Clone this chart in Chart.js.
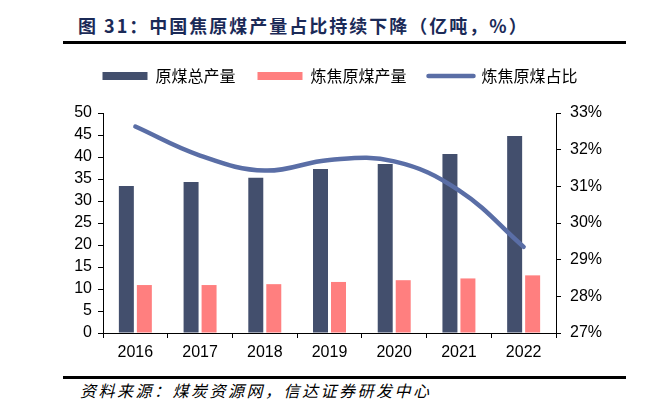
<!DOCTYPE html>
<html>
<head>
<meta charset="utf-8">
<script src="https://cdn.jsdelivr.net/npm/chart.js@4"></script>
<style>
  html, body { margin:0; padding:0; background:#fff; width:650px; height:420px; overflow:hidden; position:relative; }
  #title { position:absolute; left:78px; top:13px; font-family:"Noto Sans CJK SC", sans-serif; font-weight:bold; font-size:18px; letter-spacing:2px; color:#1b2a57; line-height:24px; white-space:nowrap; }
  .rule { position:absolute; left:63px; width:563px; height:3px; background:#000; }
  #footer { position:absolute; left:80px; top:380px; font-family:"Noto Sans CJK SC", sans-serif; font-style:italic; font-size:16px; letter-spacing:2.5px; color:#000; line-height:20px; white-space:nowrap; }
  #wrap { position:absolute; left:40px; top:46px; width:600px; height:325px; }
</style>
</head>
<body>
<div id="title">图 31：中国焦原煤产量占比持续下降（亿吨，%）</div>
<div class="rule" style="top:41px"></div>
<div id="wrap"><canvas id="c" width="600" height="325"></canvas></div>
<div class="rule" style="top:376px"></div>
<div id="footer">资料来源：煤炭资源网，信达证券研发中心</div>
<script>
const years = ['2016','2017','2018','2019','2020','2021','2022'];
const rawCoal = [33.4, 34.3, 35.3, 37.3, 38.4, 40.7, 44.8];
const cokingCoal = [10.9, 10.9, 11.1, 11.6, 12.0, 12.4, 13.1];
const cokingShare = [32.63, 31.84, 31.43, 31.72, 31.68, 30.89, 29.35];
const labels = ['原煤总产量', '炼焦原煤产量', '炼焦原煤占比'];

const tickFont = { family: '"Liberation Sans", Arial, sans-serif', size: 16 };
const legendHeight = {
  id: 'legendHeight',
  beforeInit(chart) {
    const orig = chart.legend.fit;
    chart.legend.fit = function () { orig.call(this); this.height = 67; };
  }
};

new Chart(document.getElementById('c'), {
  data: {
    labels: years,
    datasets: [
      { type: 'line', label: labels[2], data: cokingShare, yAxisID: 'y1', borderColor: '#5a6ea6', backgroundColor: '#5a6ea6', borderWidth: 4.5, tension: 0.4, pointRadius: 0, borderCapStyle: 'round', order: 0 },
      { type: 'bar', label: labels[0], data: rawCoal, yAxisID: 'y', backgroundColor: '#434f6d', categoryPercentage: 0.556, barPercentage: 0.833, order: 1 },
      { type: 'bar', label: labels[1], data: cokingCoal, yAxisID: 'y', backgroundColor: '#ff7f7f', categoryPercentage: 0.556, barPercentage: 0.833, order: 1 }
    ]
  },
  options: {
    responsive: false,
    animation: false,
    layout: { padding: 0 },
    plugins: {
      tooltip: { enabled: false },
      legend: {
        position: 'top',
        labels: {
          usePointStyle: true,
          pointStyleWidth: 45,
          boxHeight: 8,
          padding: 22,
          font: { family: '"Noto Sans CJK SC", sans-serif', size: 16 },
          color: '#000',
          generateLabels(chart) {
            const ds = chart.data.datasets;
            return [1, 2, 0].map(i => ({
              text: ds[i].label,
              fillStyle: ds[i].backgroundColor,
              strokeStyle: ds[i].borderColor || ds[i].backgroundColor,
              lineWidth: i === 0 ? 4.5 : 0,
              lineCap: 'round',
              pointStyle: i === 0 ? 'line' : 'rect',
              fontColor: '#000',
              hidden: false,
              datasetIndex: i
            }));
          }
        }
      }
    },
    scales: {
      x: {
        grid: { display: true, offset: true, drawOnChartArea: false, drawTicks: true, tickLength: 5, color: '#000' },
        border: { display: true, color: '#000', width: 1 },
        ticks: { font: tickFont, color: '#000', padding: 5 },
        afterFit(s) { s.height = 38; }
      },
      y: {
        position: 'left', min: 0, max: 50,
        ticks: { stepSize: 5, autoSkip: false, font: tickFont, color: '#000', padding: 6 },
        grid: { drawOnChartArea: false, drawTicks: true, tickLength: 5, color: '#000' },
        border: { display: true, color: '#000', width: 1 },
        afterFit(s) { s.width = 63; }
      },
      y1: {
        position: 'right', min: 27, max: 33,
        ticks: { stepSize: 1, autoSkip: false, font: tickFont, color: '#000', padding: 9, callback: v => v + '%' },
        grid: { drawOnChartArea: false, drawTicks: true, tickLength: 5, color: '#000' },
        border: { display: true, color: '#000', width: 1 },
        afterFit(s) { s.width = 84; }
      }
    }
  },
  plugins: [legendHeight]
});
</script>
</body>
</html>
